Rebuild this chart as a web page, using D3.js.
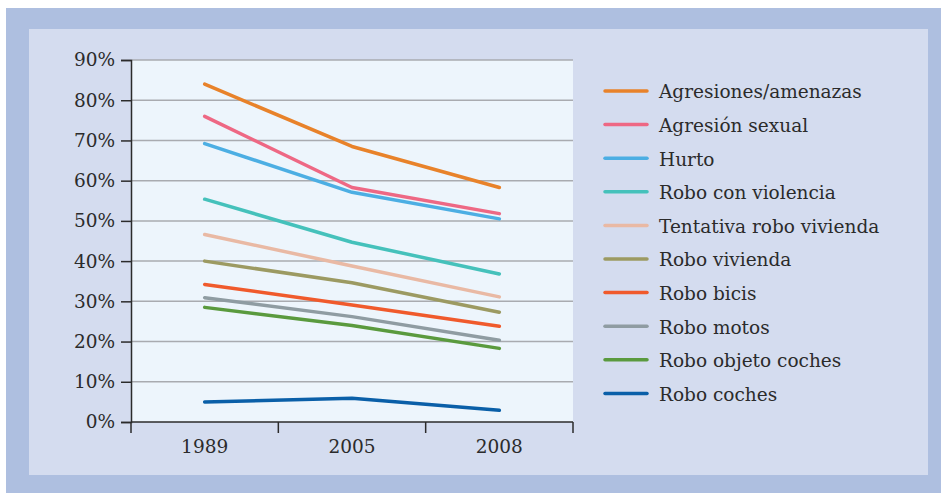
<!DOCTYPE html>
<html>
<head>
<meta charset="utf-8">
<script src="https://cdn.jsdelivr.net/npm/d3@7"></script>
<style>
  body { margin: 0; background: #fff; }
  svg text { font-family: "DejaVu Serif", serif; fill: #2b2b2b; }
</style>
</head>
<body>
<svg id="chart" width="941" height="493"></svg>
<script>
const years = ["1989", "2005", "2008"];
const yTicks = [0, 10, 20, 30, 40, 50, 60, 70, 80, 90];

const seriesNames = [
  "Agresiones/amenazas", "Agresión sexual", "Hurto", "Robo con violencia",
  "Tentativa robo vivienda", "Robo vivienda", "Robo bicis", "Robo motos",
  "Robo objeto coches", "Robo coches"
];
const agresiones = [84, 68.5, 58.3];
const agresionSexual = [76, 58.3, 51.8];
const hurto = [69.2, 57.1, 50.5];
const roboViolencia = [55.4, 44.7, 36.8];
const tentativa = [46.6, 38.8, 31.1];
const roboVivienda = [40, 34.6, 27.3];
const roboBicis = [34.2, 29.1, 23.8];
const roboMotos = [30.9, 26.2, 20.3];
const roboObjeto = [28.5, 24, 18.3];
const roboCoches = [5, 5.9, 2.9];
const colors = ["#e8822a", "#ee6884", "#4caee3", "#45c1bb", "#e9b9a4",
  "#9c9a62", "#f05a2c", "#8f9ca2", "#5a9a3e", "#0a5fa8"];

const seriesValues = [agresiones, agresionSexual, hurto, roboViolencia, tentativa,
  roboVivienda, roboBicis, roboMotos, roboObjeto, roboCoches];

const svg = d3.select("#chart");

// frames
svg.append("rect").attr("x", 6).attr("y", 8).attr("width", 935).attr("height", 485).attr("fill", "#aebfe0");
svg.append("rect").attr("x", 29).attr("y", 29).attr("width", 899).attr("height", 446).attr("fill", "#d4dcef");

const plot = { left: 131, right: 573, top: 60, bottom: 422 };

const x = d3.scaleBand().domain(years).range([plot.left, plot.right]);
const y = d3.scaleLinear().domain([0, 90]).range([plot.bottom, plot.top]);

svg.append("rect")
  .attr("x", plot.left).attr("y", plot.top)
  .attr("width", plot.right - plot.left).attr("height", plot.bottom - plot.top)
  .attr("fill", "#edf5fc");

// gridlines
svg.append("g").selectAll("line")
  .data(yTicks.filter(d => d > 0))
  .join("line")
  .attr("x1", plot.left).attr("x2", plot.right)
  .attr("y1", d => y(d)).attr("y2", d => y(d))
  .attr("stroke", "#a9abb0").attr("stroke-width", 1.5);

// y axis
const yAxis = svg.append("g")
  .attr("transform", `translate(${plot.left},0)`)
  .call(d3.axisLeft(y).tickValues(yTicks).tickFormat(d => d + "%").tickSize(10).tickPadding(6));
yAxis.attr("font-family", null).attr("font-size", null);
yAxis.select(".domain").attr("stroke", "#2b2b2b").attr("stroke-width", 1.5);
yAxis.selectAll(".tick line").attr("stroke", "#2b2b2b").attr("stroke-width", 1.5);
yAxis.selectAll(".tick text").style("font-size", "18.5px");

// x axis: ticks at band boundaries
const xg = svg.append("g").attr("transform", `translate(0,${plot.bottom})`);
xg.append("line").attr("x1", plot.left).attr("x2", plot.right)
  .attr("stroke", "#2b2b2b").attr("stroke-width", 1.5);
const bounds = years.map(d => x(d)).concat([x(years[years.length - 1]) + x.bandwidth()]);
xg.selectAll("line.tk").data(bounds).join("line").attr("class", "tk")
  .attr("x1", d => d).attr("x2", d => d).attr("y1", 0).attr("y2", 11)
  .attr("stroke", "#2b2b2b").attr("stroke-width", 1.5);
xg.selectAll("text").data(years).join("text")
  .attr("x", d => x(d) + x.bandwidth() / 2).attr("y", 31)
  .attr("text-anchor", "middle").style("font-size", "18.5px").text(d => d);

// lines
const line = d3.line()
  .x((d, i) => x(years[i]) + x.bandwidth() / 2)
  .y(d => y(d));

svg.append("g").selectAll("path")
  .data(seriesValues)
  .join("path")
  .attr("d", d => line(d))
  .attr("fill", "none")
  .attr("stroke", (d, i) => colors[i])
  .attr("stroke-width", 3.5)
  .attr("stroke-linecap", "round")
  .attr("stroke-linejoin", "round");

// legend
const legend = svg.append("g").selectAll("g")
  .data(seriesNames)
  .join("g")
  .attr("transform", (d, i) => `translate(605,${91 + i * 33.6})`);
legend.append("line").attr("x1", 0).attr("x2", 42)
  .attr("stroke", (d, i) => colors[i]).attr("stroke-width", 3.5).attr("stroke-linecap", "round");
legend.append("text").attr("x", 54).attr("dy", "0.4em")
  .style("font-size", "18.5px").text(d => d);
</script>
</body>
</html>
